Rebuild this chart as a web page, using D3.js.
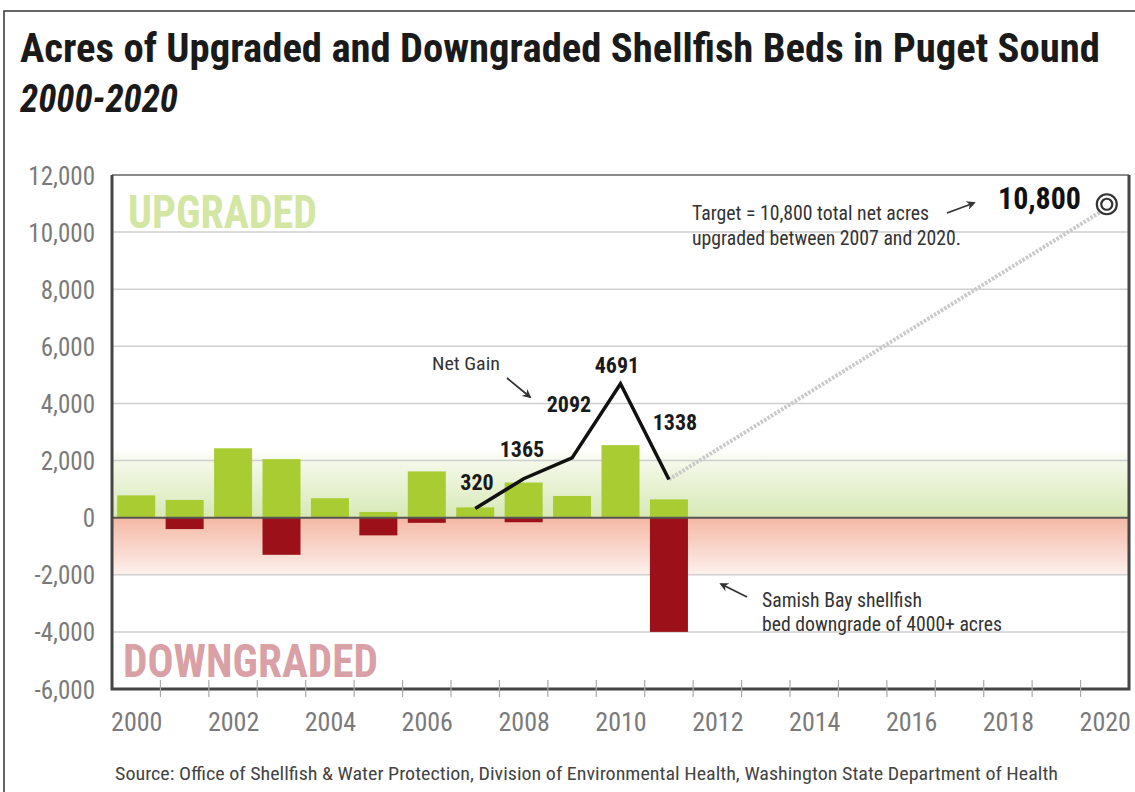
<!DOCTYPE html>
<html>
<head>
<meta charset="utf-8">
<script src="https://cdn.jsdelivr.net/npm/d3@7"></script>
<style>
  html, body { margin: 0; padding: 0; background: #fff; }
  svg { display: block; }
  text { font-family: 'Liberation Sans Narrow', 'Arial Narrow', 'Roboto Condensed', 'DejaVu Sans Condensed', sans-serif; }
</style>
</head>
<body>
<svg id="chart" width="1135" height="792"></svg>
<script>
// ---- data ----
const years = [2000, 2001, 2002, 2003, 2004, 2005, 2006, 2007, 2008, 2009, 2010, 2011];
const upgraded = [780, 620, 2430, 2050, 680, 200, 1620, 360, 1230, 760, 2540, 640];
const downgraded = [0, -400, 0, -1300, 0, -620, -180, 0, -160, 0, 0, -4000];
const netYears = [2007, 2008, 2009, 2010, 2011];
const netGain = [320, 1365, 2092, 4691, 1338];
const targetYear = 2020;
const targetValue = 10800;
const yTicks = [-6000, -4000, -2000, 0, 2000, 4000, 6000, 8000, 10000, 12000];
const xTickLabels = [2000, 2002, 2004, 2006, 2008, 2010, 2012, 2014, 2016, 2018, 2020];
const title = "Acres of Upgraded and Downgraded Shellfish Beds in Puget Sound";
const subtitle = "2000-2020";
const source = "Source: Office of Shellfish & Water Protection, Division of Environmental Health, Washington State Department of Health";

const svg = d3.select("#chart");
const L = 112, R = 1129, T = 175, B = 689;
const x = d3.scaleLinear().domain([1999.5, 2020.5]).range([L, R]);
const y = d3.scaleLinear().domain([-6000, 12000]).range([B, T]);
const barW = 38;

// outer frame
svg.append("rect").attr("x", 4).attr("y", 11).attr("width", 1160).attr("height", 820)
  .attr("fill", "none").attr("stroke", "#333").attr("stroke-width", 1.5);

// title
svg.append("text").attr("x", 20).attr("y", 62).text(title)
  .attr("font-size", 40).attr("font-weight", "bold").attr("fill", "#1a1a1a")
  .attr("textLength", 1080).attr("lengthAdjust", "spacingAndGlyphs");
svg.append("text").attr("x", 20).attr("y", 112).text(subtitle)
  .attr("font-size", 38).attr("font-weight", "bold").attr("font-style", "italic").attr("fill", "#1a1a1a")
  .attr("textLength", 158).attr("lengthAdjust", "spacingAndGlyphs");

// gradients
const defs = svg.append("defs");
const gG = defs.append("linearGradient").attr("id", "gGreen")
  .attr("gradientUnits", "userSpaceOnUse").attr("x1", 0).attr("x2", 0)
  .attr("y1", y(2400)).attr("y2", y(0));
gG.append("stop").attr("offset", 0).attr("stop-color", "#ffffff");
gG.append("stop").attr("offset", 0.2).attr("stop-color", "#f3f8e8");
gG.append("stop").attr("offset", 1).attr("stop-color", "#d8e9b6");
const gR = defs.append("linearGradient").attr("id", "gRed")
  .attr("gradientUnits", "userSpaceOnUse").attr("x1", 0).attr("x2", 0)
  .attr("y1", y(0)).attr("y2", y(-2000));
gR.append("stop").attr("offset", 0).attr("stop-color", "#f4b8a4");
gR.append("stop").attr("offset", 1).attr("stop-color", "#fdf1ed");

svg.append("rect").attr("x", L).attr("width", R - L).attr("y", y(2400)).attr("height", y(0) - y(2400))
  .attr("fill", "url(#gGreen)");
svg.append("rect").attr("x", L).attr("width", R - L).attr("y", y(0)).attr("height", y(-2000) - y(0))
  .attr("fill", "url(#gRed)");

// gridlines
svg.append("g").selectAll("line").data(yTicks.filter(d => d !== 0 && d !== -6000 && d !== 12000)).join("line")
  .attr("x1", L).attr("x2", R).attr("y1", d => y(d)).attr("y2", d => y(d))
  .attr("stroke", "#cfcfcf").attr("stroke-width", 1.5);

// category labels in background
svg.append("text").attr("x", 128).attr("y", 228).text("UPGRADED")
  .attr("font-size", 46).attr("font-weight", "bold").attr("fill", "#d3e6a3")
  .attr("textLength", 189).attr("lengthAdjust", "spacingAndGlyphs");
svg.append("text").attr("x", 123).attr("y", 677).text("DOWNGRADED")
  .attr("font-size", 46).attr("font-weight", "bold").attr("fill", "#d9a1a6")
  .attr("textLength", 255).attr("lengthAdjust", "spacingAndGlyphs");

// bars
svg.append("g").selectAll("rect").data(years).join("rect")
  .attr("x", d => x(d) - barW / 2).attr("width", barW)
  .attr("y", (d, i) => y(upgraded[i])).attr("height", (d, i) => y(0) - y(upgraded[i]))
  .attr("fill", "#a8cc32");
svg.append("g").selectAll("rect").data(years.filter((d, i) => downgraded[i] < 0)).join("rect")
  .attr("x", d => x(d) - barW / 2).attr("width", barW)
  .attr("y", y(0)).attr("height", d => y(downgraded[years.indexOf(d)]) - y(0))
  .attr("fill", "#9b1019");

// zero line
svg.append("line").attr("x1", L).attr("x2", R).attr("y1", y(0)).attr("y2", y(0))
  .attr("stroke", "#555").attr("stroke-width", 2);

// target dotted line
svg.append("line")
  .attr("x1", x(netYears[netYears.length - 1])).attr("y1", y(netGain[netGain.length - 1]))
  .attr("x2", x(targetYear)).attr("y2", y(targetValue))
  .attr("stroke", "#c9c9c9").attr("stroke-width", 4).attr("stroke-dasharray", "2.5,1.5");

// net gain line
const line = d3.line().x(d => x(d[0])).y(d => y(d[1]));
svg.append("path").datum(netYears.map((d, i) => [d, netGain[i]]))
  .attr("d", line).attr("fill", "none").attr("stroke", "#111").attr("stroke-width", 3.5)
  .attr("stroke-linejoin", "miter");

// net gain value labels
const labelPos = [[477, 490], [522, 457], [569, 412], [617, 373], [675, 430]];
svg.append("g").selectAll("text").data(netGain).join("text")
  .attr("x", (d, i) => labelPos[i][0]).attr("y", (d, i) => labelPos[i][1])
  .attr("text-anchor", "middle").attr("font-size", 22).attr("font-weight", "bold").attr("fill", "#1a1a1a")
  .text(d => d);

// plot frame
const fr = svg.append("g");
fr.append("line").attr("x1", L).attr("x2", R).attr("y1", T).attr("y2", T).attr("stroke", "#8a8a8a").attr("stroke-width", 2);
fr.append("path").attr("d", `M${L},${T}V${B}H${R}V${T}`).attr("fill", "none")
  .attr("stroke", "#454545").attr("stroke-width", 3);

// x ticks at year boundaries
const tickYears = d3.range(2000, 2020).map(d => d + 0.5);
svg.append("g").selectAll("line").data(tickYears).join("line")
  .attr("x1", d => x(d)).attr("x2", d => x(d)).attr("y1", B - 9).attr("y2", B + 8)
  .attr("stroke", "#aaa").attr("stroke-width", 1.2);

// axes labels
const xAxis = d3.axisBottom(x).tickValues(xTickLabels).tickFormat(d3.format("d")).tickSize(0).tickPadding(0);
const gx = svg.append("g").attr("transform", `translate(0,${B + 24})`).call(xAxis);
gx.select(".domain").remove();
gx.selectAll("text").attr("font-size", 26).attr("fill", "#7a7a7a").attr("dy", "0.71em")
  .style("font-family", "'Liberation Sans Narrow', 'Arial Narrow', 'Roboto Condensed', 'DejaVu Sans Condensed', sans-serif");

const yAxis = d3.axisLeft(y).tickValues(yTicks).tickFormat(d3.format(",")).tickSize(0).tickPadding(0);
const gy = svg.append("g").attr("transform", `translate(95,0)`).call(yAxis);
gy.select(".domain").remove();
gy.selectAll("text").attr("font-size", 25).attr("fill", "#7a7a7a").attr("dy", "0.36em")
  .text(d => d3.format(",")(d).replace("−", "-"))
  .style("font-family", "'Liberation Sans Narrow', 'Arial Narrow', 'Roboto Condensed', 'DejaVu Sans Condensed', sans-serif");

// annotations
const ann = svg.append("g").attr("fill", "#333");
ann.append("text").attr("x", 432).attr("y", 370).text("Net Gain").attr("font-size", 19)
  .attr("textLength", 68).attr("lengthAdjust", "spacingAndGlyphs");
ann.append("text").attr("x", 692).attr("y", 220).text("Target = 10,800 total net acres").attr("font-size", 20)
  .attr("textLength", 237).attr("lengthAdjust", "spacingAndGlyphs");
ann.append("text").attr("x", 692).attr("y", 245).text("upgraded between 2007 and 2020.").attr("font-size", 20)
  .attr("textLength", 269).attr("lengthAdjust", "spacingAndGlyphs");
ann.append("text").attr("x", 762).attr("y", 607).text("Samish Bay shellfish").attr("font-size", 20)
  .attr("textLength", 160).attr("lengthAdjust", "spacingAndGlyphs");
ann.append("text").attr("x", 762).attr("y", 631).text("bed downgrade of 4000+ acres").attr("font-size", 20)
  .attr("textLength", 240).attr("lengthAdjust", "spacingAndGlyphs");

svg.append("text").attr("x", 998).attr("y", 209).text(d3.format(",")(targetValue))
  .attr("font-size", 31).attr("font-weight", "bold").attr("fill", "#111")
  .attr("textLength", 83).attr("lengthAdjust", "spacingAndGlyphs");

// target marker
const tx = x(targetYear) + 2, ty = y(targetValue) - 5;
svg.append("circle").attr("cx", tx).attr("cy", ty).attr("r", 10).attr("fill", "#fff").attr("stroke", "#333").attr("stroke-width", 2.2);
svg.append("circle").attr("cx", tx).attr("cy", ty).attr("r", 5.5).attr("fill", "#fff").attr("stroke", "#333").attr("stroke-width", 2.2);

// arrows
defs.append("marker").attr("id", "ah").attr("viewBox", "0 0 10 10").attr("refX", 8).attr("refY", 5)
  .attr("markerWidth", 5).attr("markerHeight", 5).attr("orient", "auto")
  .append("path").attr("d", "M0,0 L10,5 L0,10 L3,5 Z").attr("fill", "#333");
const arrows = [[[507, 378], [530, 397]], [[947, 213], [974, 203]], [[747, 597], [721, 584]]];
svg.append("g").selectAll("line").data(arrows).join("line")
  .attr("x1", d => d[0][0]).attr("y1", d => d[0][1]).attr("x2", d => d[1][0]).attr("y2", d => d[1][1])
  .attr("stroke", "#333").attr("stroke-width", 1.8).attr("marker-end", "url(#ah)");

// source
svg.append("text").attr("x", 115).attr("y", 780).text(source).attr("font-size", 19).attr("fill", "#444")
  .attr("textLength", 943).attr("lengthAdjust", "spacingAndGlyphs");
</script>
</body>
</html>
